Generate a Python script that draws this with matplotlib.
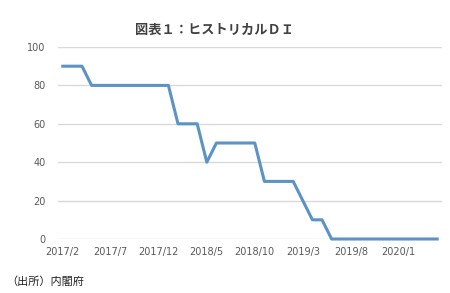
import numpy as np
import matplotlib
matplotlib.use("Agg")
import matplotlib.pyplot as plt

plt.rcParams['font.family'] = ['Noto Sans CJK JP', 'DejaVu Sans']

# monthly DI, 2017/2 .. 2020/5
months = []
for i in range(40):
    y = 2017 + (1 + i) // 12
    m = (1 + i) % 12 + 1
    months.append("%d/%d" % (y, m))
di_values = [90, 90, 90,
             80, 80, 80, 80, 80, 80, 80, 80, 80,
             60, 60, 60,
             40,
             50, 50, 50, 50, 50,
             30, 30, 30, 30,
             20,
             10, 10,
             0, 0, 0, 0, 0, 0, 0, 0, 0, 0, 0, 0]
y_ticks = [0, 20, 40, 60, 80, 100]

fig = plt.figure(figsize=(4.5, 2.93), dpi=100)
ax = fig.add_axes([58/450, 1-239/293, 384/450, 192/293])

x = np.arange(len(months))
ax.plot(x, di_values, color='#5B93C5', linewidth=2.2, clip_on=False, zorder=3)

ax.set_xlim(-0.5, len(months) - 0.5)
ax.set_ylim(0, 100)
ax.set_yticks(y_ticks)
ax.set_xticks(x[::5])
ax.set_xticklabels(months[::5])
ax.grid(axis='y', color='#D9D9D9', linewidth=1)
ax.set_axisbelow(True)
for s in ax.spines.values():
    s.set_visible(False)
ax.tick_params(length=0, labelsize=7, colors='#595959', pad=6)
ax.tick_params(axis='y', pad=9)
for lab in ax.get_xticklabels() + ax.get_yticklabels():
    lab.set_family('DejaVu Sans')

fig.text(214/450, 1-30/293, "図表１：ヒストリカルＤＩ", ha='center', va='center',
         fontsize=9.5, fontweight='bold', color='#404040')
fig.text(6/450, 1-282/293, "（出所）内閣府", ha='left', va='center',
         fontsize=8, color='#222222')

fig.savefig("out.png", dpi=100)
